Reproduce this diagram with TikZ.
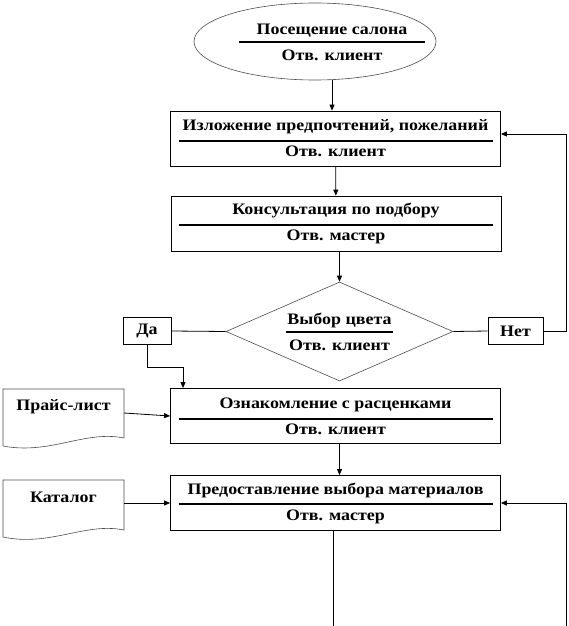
\documentclass[tikz,border=0pt]{standalone}
\usepackage{fontspec}
\setmainfont[FakeStretch=1.12]{Liberation Serif}
\usetikzlibrary{shapes.geometric,arrows.meta,calc}

\begin{document}
\begin{tikzpicture}[x=1pt, y=-1pt,
    font=\fontsize{16}{26}\selectfont\bfseries,
    stepbox/.style={draw, line width=.8pt, minimum width=330pt, minimum height=55pt, align=center, inner sep=0pt},
    tagbox/.style={draw, line width=.8pt, minimum height=27pt, inner sep=0pt},
    outline/.style={draw=black!70, line width=.6pt},
    sep/.style={line width=2pt},
    wire/.style={line width=.8pt},
    arr/.style={wire, -{Triangle[length=6pt, width=5pt]}}
  ]

  \useasboundingbox (0,0) rectangle (569,626);

  % start of the process
  \node[outline, ellipse, minimum width=242pt, minimum height=77pt, inner sep=0pt] (start) at (315,41.5) {};
  \node[align=center] (starttxt) at (332,42) {Посещение салона\\Отв. клиент};
  \draw[sep] ($(starttxt.center)+(-93,0)$) -- ($(starttxt.center)+(93,0)$);

  % main steps
  \node[stepbox] (b1) at (335.5,138.5) {Изложение предпочтений, пожеланий\\Отв. клиент};
  \node[stepbox] (b2) at (336,223.5) {Консультация по подбору\\Отв. мастер};
  \node[stepbox] (b3) at (335.5,416) {Ознакомление с расценками\\Отв. клиент};
  \node[stepbox] (b4) at (335.5,503) {Предоставление выбора материалов\\Отв. мастер};
  \foreach \b/\d in {b1/2.5,b2/1.5,b3/3,b4/1}
    \draw[sep] ($(\b.center)+(-157,\d)$) -- ($(\b.center)+(157,\d)$);

  % decision
  \node[outline, diamond, minimum width=227pt, minimum height=99pt, inner sep=0pt] (choice) at (339.5,331.5) {};
  \node[align=center] (choicetxt) at (339.5,332) {Выбор цвета\\Отв. клиент};
  \draw[sep] ($(choicetxt.center)+(-53.5,0)$) -- ($(choicetxt.center)+(53.5,0)$);
  \node[tagbox, minimum width=48pt] (yes) at (147,331) {Да};
  \node[tagbox, minimum width=55pt] (no) at (515.5,331) {Нет};

  % documents
  \node (price) at (63.5,407) {Прайс-лист};
  \draw[outline] (3,389) -- (124,389) -- (124,438) .. controls (85,430) and (50,455) .. (3,446) -- cycle;
  \node (catalog) at (63.5,497) {Каталог};
  \draw[outline] (3,480) -- (124,480) -- (124,530) .. controls (85,522) and (50,547) .. (3,537) -- cycle;

  \coordinate (noloop) at (566,134);
  \coordinate (yesin) at (183,367);
  \coordinate (priceout) at (124,413);
  \coordinate (catalogout) at (124,503);
  \coordinate (b4out) at (333,626);
  \coordinate (b4loop) at (566,626);

  % connectors
  \draw[arr] (start.south -| starttxt) -- (starttxt |- b1.north);
  \draw[arr] (b1) -- (b2);
  \draw[arr] (b2.south -| choice.north) -- (choice.north);
  \draw[wire] (yes.east) -- (choice.west);
  \draw[wire] (choice.east) -- (no.west);
  \draw[arr] (no.east) -| (noloop) -- (noloop -| b1.east);
  \draw[arr] (yes.south) |- (yesin) -- (yesin |- b3.north);
  \draw[arr] (priceout) -- (b3.west);
  \draw[arr] (catalogout) -- (b4.west);
  \draw[arr] (b3.south -| choice) -- (b4.north -| choice);
  \draw[wire] (b4.south -| b4out) -- (b4out);
  \draw[arr] (b4loop) |- (b4.east);

\end{tikzpicture}
\end{document}
